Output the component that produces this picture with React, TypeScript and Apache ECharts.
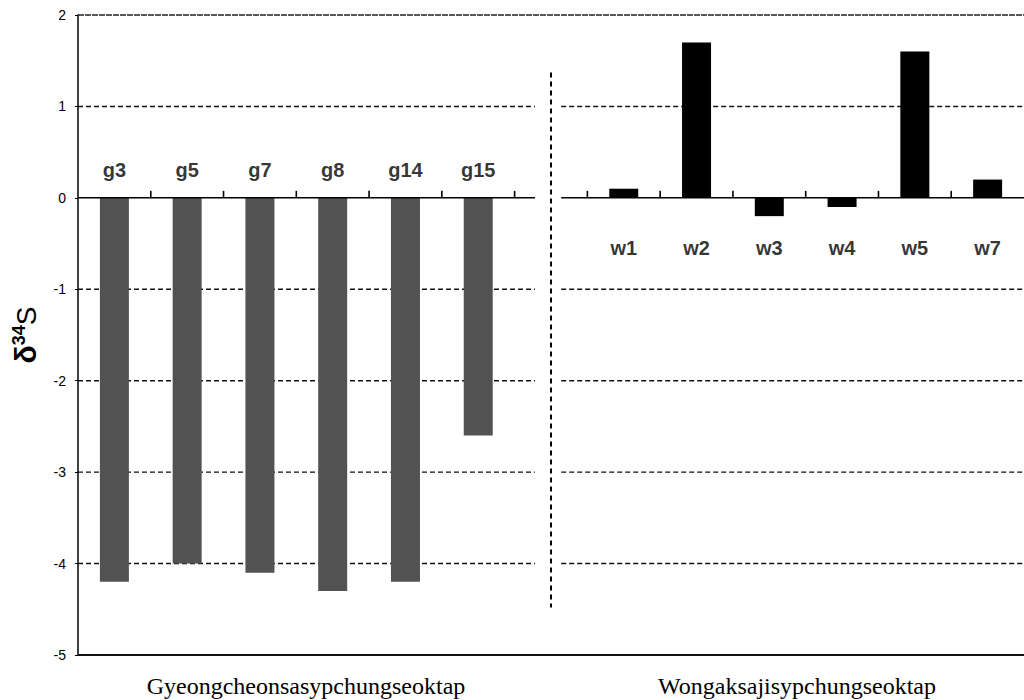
import React, { useEffect, useRef } from "react";
import * as echarts from "echarts";

// ---- data ----
const gCategories = ["g3", "g5", "g7", "g8", "g14", "g15"];
const gValues = [-4.2, -4.0, -4.1, -4.3, -4.2, -2.6];
const wCategories = ["w1", "w2", "w3", "w4", "w5", "w7"];
const wValues = [0.1, 1.7, -0.2, -0.1, 1.6, 0.2];
const groupNames = ["Gyeongcheonsasypchungseoktap", "Wongaksajisypchungseoktap"];
const yMin = -5;
const yMax = 2;
const yInterval = 1;
const gridLevels = [1, -1, -2, -3, -4];

// ---- layout constants ----
const gLabelLevel = 0.31;
const wLabelLevel = -0.55;
const leftEnd = 6.28;
const rightStart = 6.64;
const sepX = 6.5;
const sepTop = 1.37;
const sepBottom = -4.48;

export default function App() {
  const ref = useRef<HTMLDivElement>(null);

  useEffect(() => {
    if (!ref.current) return;
    const chart = echarts.init(ref.current, null, { renderer: "svg" });
    const categories = [...gCategories, " ", ...wCategories];
    const nCat = categories.length;
    const blanks = (n: number) => Array.from({ length: n }, () => "-");

    const line = (pts: number[][], style: any, z = 1) => ({
      type: "line",
      xAxisIndex: 1,
      yAxisIndex: 0,
      data: pts,
      showSymbol: false,
      symbol: "none",
      silent: true,
      clip: false,
      lineStyle: style,
      z,
    });
    const seg = (x0: number, x1: number, y: number, style: any, z = 1) =>
      line([[x0, y], [x1, y]], style, z);

    // category boundary ticks (inner boundaries)
    const tickPositions = categories.slice(1).map((_, i) => i + 1);

    const dashStyle = { color: "#111", width: 1.4, type: [5, 3] };
    const lineSeries: any[] = [];
    gridLevels.forEach((v) => {
      lineSeries.push(seg(0, leftEnd, v, dashStyle));
      lineSeries.push(seg(rightStart, nCat, v, dashStyle));
    });
    // zero line (broken)
    lineSeries.push(seg(0, leftEnd, 0, { color: "#000", width: 1.5 }, 4));
    lineSeries.push(seg(rightStart, nCat, 0, { color: "#000", width: 1.5 }, 4));
    // top and bottom borders
    lineSeries.push(seg(0, nCat, yMax, { color: "#222", width: 1.5, type: [6, 1] }));
    lineSeries.push(seg(0, nCat, yMin, { color: "#111", width: 2 }));
    // vertical separator
    lineSeries.push(line([[sepX, sepTop], [sepX, sepBottom]], { color: "#000", width: 2, type: [5, 4] }));

    const labelData = [
      ...gCategories.map((c) => [c, gLabelLevel]),
      ...wCategories.map((c) => [c, wLabelLevel]),
    ];

    chart.setOption({
      animation: false,
      grid: { left: 78, right: -2, top: 15, bottom: 45, containLabel: false },
      xAxis: [
        {
          type: "category",
          data: categories,
          axisLine: { show: false, onZero: true },
          axisTick: { show: false },
          axisLabel: { show: false },
          splitLine: { show: false },
        },
        { type: "value", min: 0, max: nCat, show: false },
      ],
      yAxis: {
        type: "value",
        min: yMin,
        max: yMax,
        interval: yInterval,
        axisLine: { show: true, onZero: false, lineStyle: { color: "#000", width: 1.5 } },
        axisTick: { show: true, length: 3, lineStyle: { color: "#000" } },
        splitLine: { show: false },
        axisLabel: {
          color: "#000",
          fontSize: 14,
          fontFamily: "Liberation Sans",
          margin: 12,
        },
        name: "{a|δ}{b|34}{c|S}",
        nameLocation: "middle",
        nameGap: 38,
        nameTextStyle: {
          rich: {
            a: { fontSize: 30, fontWeight: "bold", fontFamily: "Liberation Sans", color: "#000", lineHeight: 30, verticalAlign: "bottom" },
            b: { fontSize: 18, fontWeight: "bold", fontFamily: "Liberation Sans", color: "#000", lineHeight: 30, verticalAlign: "top" },
            c: { fontSize: 28, fontFamily: "Liberation Sans", color: "#000", lineHeight: 30, verticalAlign: "bottom" },
          },
        },
      },
      series: [
        ...lineSeries,
        {
          type: "scatter",
          xAxisIndex: 1,
          yAxisIndex: 0,
          data: tickPositions.map((k) => [k, 0]),
          symbol: "rect",
          symbolSize: [1.6, 7],
          symbolOffset: [0, -3.5],
          silent: true,
          itemStyle: { color: "#000", opacity: 1 },
          z: 6,
        },
        {
          type: "bar",
          name: groupNames[0],
          data: [...gValues, ...blanks(nCat - gValues.length)],
          barWidth: 29,
          barGap: "-100%",
          itemStyle: { color: "#525252" },
          z: 3,
        },
        {
          type: "bar",
          name: groupNames[1],
          data: [...blanks(nCat - wValues.length), ...wValues],
          barWidth: 29,
          barGap: "-100%",
          itemStyle: { color: "#000" },
          z: 3,
        },
        {
          type: "scatter",
          data: labelData,
          symbolSize: 0,
          silent: true,
          label: {
            show: true,
            position: "inside",
            formatter: (p: any) => p.value[0],
            color: "#000",
            fontSize: 20,
            fontWeight: "bold",
            fontFamily: "Liberation Sans",
          },
          z: 5,
        },
      ],
      graphic: [
        {
          type: "text",
          x: 306,
          y: 686,
          style: {
            text: groupNames[0],
            fontSize: 24,
            fontFamily: "Liberation Serif",
            fill: "#000",
            align: "center",
            verticalAlign: "middle",
          },
        },
        {
          type: "text",
          x: 797,
          y: 686,
          style: {
            text: groupNames[1],
            fontSize: 24,
            fontFamily: "Liberation Serif",
            fill: "#000",
            align: "center",
            verticalAlign: "middle",
          },
        },
      ],
    });

    return () => chart.dispose();
  }, []);

  return (
    <div
      ref={ref}
      style={{ position: "absolute", left: 0, top: 0, width: 1024, height: 700, background: "#fff" }}
    />
  );
}
